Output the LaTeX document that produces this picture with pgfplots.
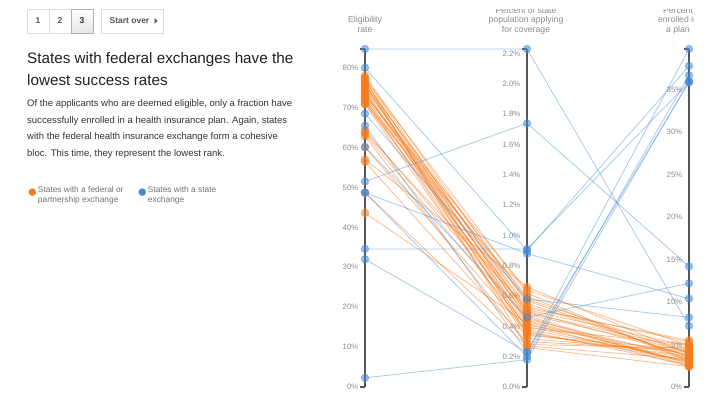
\documentclass[border=0pt]{standalone}
\usepackage{pgfplots}
\pgfplotsset{compat=1.18}
\usepackage{fontspec}
\setmainfont{Liberation Sans}

\definecolor{fed}{RGB}{245,125,32}
\definecolor{sta}{RGB}{70,138,215}
\definecolor{axisline}{RGB}{85,85,85}
\definecolor{tickgray}{RGB}{140,140,140}
\definecolor{titlegray}{RGB}{140,140,140}
\definecolor{bodytext}{RGB}{51,51,51}
\definecolor{btnborder}{RGB}{221,221,221}
\definecolor{btntext}{RGB}{85,85,85}

% each vertical axis runs from 0 to its largest value
\newcommand{\ny}{\thisrow{v}/(\thisrow{k}<0.5 ? 84.7 : (\thisrow{k}<1.5 ? 2.23 : 39.8))}

\pgfplotsset{
  scaleaxis/.style={scale only axis, width=20bp, height=338bp, anchor=south west,
    xmin=0, xmax=1, ymin=0, hide x axis, axis y line=left,
    y axis line style={-, draw=axisline, line width=1.7bp},
    major tick length=0pt,
    yticklabel style={font=\fontsize{7.8}{9}\selectfont, text=tickgray, xshift=-3.2bp},
    yticklabel={\pgfmathprintnumber{\tick}\%},
    /pgf/number format/assume math mode=true,
    extra y tick labels={},
    extra y tick style={tick align=outside, major tick length=5bp,
      tick style={draw=axisline, line width=1.2bp}},
  },
  fedline/.style={draw=fed, draw opacity=0.45, line width=0.9bp, mark=*, mark size=3.8bp,
    mark options={draw=none, fill=fed, fill opacity=0.5}},
  staline/.style={draw=sta, draw opacity=0.45, line width=0.8bp, mark=*, mark size=3.8bp,
    mark options={draw=none, fill=sta, fill opacity=0.55}},
}

\begin{document}
\begin{tikzpicture}
\fill[white] (0,0) rectangle (720bp,399bp);

% step buttons
\draw[btnborder, line width=0.8bp] (27bp,366bp) rectangle (49bp,390bp);
\draw[btnborder, line width=0.8bp] (49bp,366bp) rectangle (71bp,390bp);
\draw[btnborder!80!black, line width=0.8bp, top color=white, bottom color=black!10] (71bp,366bp) rectangle (93bp,390bp);
\draw[btnborder, line width=0.8bp] (101bp,366bp) rectangle (163bp,390bp);
\begin{scope}[every node/.style={anchor=base, inner sep=0pt, text=btntext, font=\bfseries\fontsize{8.5}{10}\selectfont}]
\node at (38bp,375bp) {1};
\node at (60bp,375bp) {2};
\node[text=black!80] at (82bp,375bp) {3};
\node at (129.5bp,375bp) {Start over};
\end{scope}
\fill[btntext] (154.5bp,381bp) -- (154.5bp,375bp) -- (157.5bp,378bp) -- cycle;

% headline and text
\begin{scope}[every node/.style={anchor=base west, inner sep=0pt}]
\node[text=black!87, font=\fontsize{15.3}{18}\selectfont] at (27bp,335bp) {States with federal exchanges have the};
\node[text=black!87, font=\fontsize{15.3}{18}\selectfont] at (27bp,313.5bp) {lowest success rates};
\node[text=bodytext, font=\fontsize{9.55}{11}\selectfont] at (27bp,292.5bp) {Of the applicants who are deemed eligible, only a fraction have};
\node[text=bodytext, font=\fontsize{9.55}{11}\selectfont] at (27bp,275.8bp) {successfully enrolled in a health insurance plan. Again, states};
\node[text=bodytext, font=\fontsize{9.55}{11}\selectfont] at (27bp,259.1bp) {with the federal health insurance exchange form a cohesive};
\node[text=bodytext, font=\fontsize{9.55}{11}\selectfont] at (27bp,242.4bp) {bloc. This time, they represent the lowest rank.};
\end{scope}

% axis titles
\begin{scope}
\clip (0,0) rectangle (693bp,389.5bp);
\begin{scope}[every node/.style={anchor=base, inner sep=0pt, text=titlegray, font=\fontsize{8.7}{10}\selectfont}]
\node at (365bp,376.3bp) {Eligibility};
\node at (365bp,366.7bp) {rate};
\node at (526bp,385.6bp) {Percent of state};
\node at (526bp,376.3bp) {population applying};
\node at (526bp,366.7bp) {for coverage};
\node at (678bp,385.6bp) {Percent};
\node at (678bp,376.3bp) {enrolled in};
\node at (678bp,366.7bp) {a plan};
\end{scope}
\end{scope}

% the three scales
\begin{axis}[scaleaxis, at={(365bp,12bp)}, ymax=84.7,
  ytick={0,10,20,30,40,50,60,70,80}, extra y ticks={0,84.7}]
\end{axis}
\begin{axis}[scaleaxis, at={(527bp,12bp)}, ymax=2.23,
  ytick={0,0.2,0.4,0.6,0.8,1.0,1.2,1.4,1.6,1.8,2.0,2.2}, extra y ticks={0,2.23},
  /pgf/number format/.cd, fixed, fixed zerofill, precision=1]
\end{axis}
\begin{axis}[scaleaxis, at={(689bp,12bp)}, ymax=39.8,
  ytick={0,5,10,15,20,25,30,35}, extra y ticks={0,39.8}]
\end{axis}

% the states: k=0 eligibility rate, k=1 percent applying, k=2 percent enrolled
\begin{axis}[at={(365bp,12bp)}, anchor=south west, scale only axis,
  width=324bp, height=338bp, xmin=0, xmax=2, ymin=0, ymax=1,
  hide axis, clip=false, set layers, mark layer=axis foreground,
  legend columns=2, legend cell align=left,
  legend style={at={(-1.039,0.603)}, anchor=north west, draw=none, fill=none,
    inner sep=0pt, font=\fontsize{8.4}{10}\selectfont, text=black!55,
    /tikz/every even column/.append style={column sep=13bp}}]
\addlegendimage{legend image code/.code={\fill[fed] (0bp,0bp) circle (3.5bp);}}
\addlegendentry{{\begin{tabular}{@{}l@{}}States with a federal or\\partnership exchange\end{tabular}}}
\addlegendimage{legend image code/.code={\fill[sta] (0bp,0bp) circle (3.5bp);}}
\addlegendentry{{\begin{tabular}{@{}l@{}}States with a state\\exchange\end{tabular}}}

% federal or partnership exchange
\addplot[fedline] table[x=k, y expr=\ny, row sep=\\] {k v\\0 78.0\\1 0.55\\2 3.6\\};
\addplot[fedline] table[x=k, y expr=\ny, row sep=\\] {k v\\0 77.6\\1 0.48\\2 4.2\\};
\addplot[fedline] table[x=k, y expr=\ny, row sep=\\] {k v\\0 77.2\\1 0.62\\2 3.0\\};
\addplot[fedline] table[x=k, y expr=\ny, row sep=\\] {k v\\0 77.0\\1 0.26\\2 2.4\\};
\addplot[fedline] table[x=k, y expr=\ny, row sep=\\] {k v\\0 76.8\\1 0.44\\2 2.8\\};
\addplot[fedline] table[x=k, y expr=\ny, row sep=\\] {k v\\0 76.4\\1 0.51\\2 4.8\\};
\addplot[fedline] table[x=k, y expr=\ny, row sep=\\] {k v\\0 76.0\\1 0.38\\2 3.3\\};
\addplot[fedline] table[x=k, y expr=\ny, row sep=\\] {k v\\0 75.8\\1 0.35\\2 3.6\\};
\addplot[fedline] table[x=k, y expr=\ny, row sep=\\] {k v\\0 75.6\\1 0.58\\2 4.0\\};
\addplot[fedline] table[x=k, y expr=\ny, row sep=\\] {k v\\0 75.2\\1 0.46\\2 2.5\\};
\addplot[fedline] table[x=k, y expr=\ny, row sep=\\] {k v\\0 74.8\\1 0.53\\2 5.3\\};
\addplot[fedline] table[x=k, y expr=\ny, row sep=\\] {k v\\0 74.4\\1 0.41\\2 3.8\\};
\addplot[fedline] table[x=k, y expr=\ny, row sep=\\] {k v\\0 74.0\\1 0.36\\2 3.1\\};
\addplot[fedline] table[x=k, y expr=\ny, row sep=\\] {k v\\0 73.6\\1 0.49\\2 4.5\\};
\addplot[fedline] table[x=k, y expr=\ny, row sep=\\] {k v\\0 73.2\\1 0.57\\2 3.5\\};
\addplot[fedline] table[x=k, y expr=\ny, row sep=\\] {k v\\0 73.0\\1 0.64\\2 4.9\\};
\addplot[fedline] table[x=k, y expr=\ny, row sep=\\] {k v\\0 72.8\\1 0.43\\2 2.9\\};
\addplot[fedline] table[x=k, y expr=\ny, row sep=\\] {k v\\0 72.4\\1 0.32\\2 4.1\\};
\addplot[fedline] table[x=k, y expr=\ny, row sep=\\] {k v\\0 72.0\\1 0.50\\2 3.7\\};
\addplot[fedline] table[x=k, y expr=\ny, row sep=\\] {k v\\0 71.6\\1 0.39\\2 5.0\\};
\addplot[fedline] table[x=k, y expr=\ny, row sep=\\] {k v\\0 71.2\\1 0.60\\2 3.2\\};
\addplot[fedline] table[x=k, y expr=\ny, row sep=\\] {k v\\0 71.0\\1 0.47\\2 2.7\\};
\addplot[fedline] table[x=k, y expr=\ny, row sep=\\] {k v\\0 70.8\\1 0.34\\2 4.4\\};
\addplot[fedline] table[x=k, y expr=\ny, row sep=\\] {k v\\0 64.4\\1 0.45\\2 3.4\\};
\addplot[fedline] table[x=k, y expr=\ny, row sep=\\] {k v\\0 63.8\\1 0.52\\2 5.5\\};
\addplot[fedline] table[x=k, y expr=\ny, row sep=\\] {k v\\0 63.4\\1 0.40\\2 3.0\\};
\addplot[fedline] table[x=k, y expr=\ny, row sep=\\] {k v\\0 62.8\\1 0.28\\2 4.6\\};
\addplot[fedline] table[x=k, y expr=\ny, row sep=\\] {k v\\0 60.0\\1 0.37\\2 2.6\\};
\addplot[fedline] table[x=k, y expr=\ny, row sep=\\] {k v\\0 57.0\\1 0.66\\2 3.9\\};
\addplot[fedline] table[x=k, y expr=\ny, row sep=\\] {k v\\0 56.4\\1 0.30\\2 4.3\\};
\addplot[fedline] table[x=k, y expr=\ny, row sep=\\] {k v\\0 48.7\\1 0.27\\2 3.3\\};
\addplot[fedline] table[x=k, y expr=\ny, row sep=\\] {k v\\0 43.6\\1 0.42\\2 2.4\\};

% state exchange
\addplot[staline] table[x=k, y expr=\ny, row sep=\\] {k v\\0 84.7\\1 2.23\\2 7.2\\};
\addplot[staline] table[x=k, y expr=\ny, row sep=\\] {k v\\0 80.0\\1 0.90\\2 37.8\\};
\addplot[staline] table[x=k, y expr=\ny, row sep=\\] {k v\\0 68.5\\1 0.58\\2 8.2\\};
\addplot[staline] table[x=k, y expr=\ny, row sep=\\] {k v\\0 65.5\\1 0.23\\2 35.9\\};
\addplot[staline] table[x=k, y expr=\ny, row sep=\\] {k v\\0 60.2\\1 0.46\\2 12.2\\};
\addplot[staline] table[x=k, y expr=\ny, row sep=\\] {k v\\0 51.5\\1 1.74\\2 14.2\\};
\addplot[staline] table[x=k, y expr=\ny, row sep=\\] {k v\\0 48.7\\1 0.88\\2 10.4\\};
\addplot[staline] table[x=k, y expr=\ny, row sep=\\] {k v\\0 48.7\\1 0.20\\2 36.7\\};
\addplot[staline] table[x=k, y expr=\ny, row sep=\\] {k v\\0 34.6\\1 0.91\\2 35.9\\};
\addplot[staline] table[x=k, y expr=\ny, row sep=\\] {k v\\0 32.0\\1 0.23\\2 39.8\\};
\addplot[staline] table[x=k, y expr=\ny, row sep=\\] {k v\\0 2.3\\1 0.18\\2 36.0\\};
\end{axis}

\pgfresetboundingbox
\path[use as bounding box] (0,0) rectangle (720bp,399bp);
\end{tikzpicture}
\end{document}
